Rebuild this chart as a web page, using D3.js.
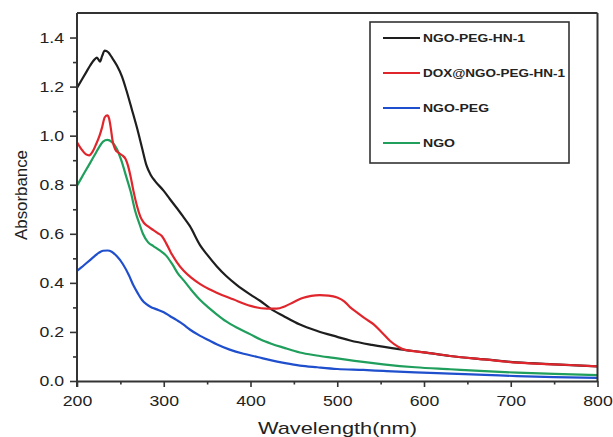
<!DOCTYPE html>
<html><head><meta charset="utf-8">
<script src="https://cdn.jsdelivr.net/npm/d3@7"></script>
<style>body{margin:0;background:#fff;} text{font-family:"Liberation Sans",Arial,sans-serif;fill:#222;}</style>
</head><body>
<svg id="c" width="613" height="437"></svg>
<script>
const seriesNames = ["NGO-PEG-HN-1","DOX@NGO-PEG-HN-1","NGO-PEG","NGO"];
const seriesColors = ["#1e1e1e","#e0262c","#1f4fcc","#1f9e5c"];

const wlBlack = [200,205,210,215,220,223,226.5,229,232,236,240,246,252,257,263,269,275,280,285,290,300,307,315,322,330,342,350,361,372,384,400,411,423,438,457,477,500,515,540,573,600,630,670,707,750,800];
const absBlack = [1.195,1.225,1.255,1.285,1.31,1.318,1.302,1.325,1.347,1.34,1.32,1.286,1.24,1.184,1.11,1.034,0.95,0.88,0.84,0.815,0.775,0.742,0.705,0.672,0.632,0.553,0.515,0.468,0.428,0.392,0.352,0.327,0.295,0.265,0.23,0.204,0.18,0.165,0.147,0.129,0.117,0.102,0.088,0.076,0.068,0.060];

const wlRed = [200,205,210,214,218,222,226,229,232,235,237,239,241,244,248,252,256,259,262,265,269,273,277,282,288,293,298,303,308,315,323,332,342,352,361,380,400,419,430,440,450,460,470,480,490,500,508,515,523,532,542,552,561,570,577,600,630,670,707,750,800];
const absRed = [0.973,0.945,0.925,0.92,0.935,0.965,1.0,1.035,1.075,1.083,1.07,1.03,0.98,0.945,0.93,0.92,0.905,0.875,0.83,0.776,0.715,0.67,0.645,0.63,0.615,0.603,0.59,0.56,0.525,0.485,0.449,0.42,0.395,0.375,0.36,0.333,0.306,0.295,0.295,0.305,0.322,0.338,0.347,0.35,0.348,0.34,0.325,0.30,0.279,0.255,0.231,0.196,0.163,0.14,0.128,0.117,0.102,0.088,0.075,0.068,0.060];

const wlBlue = [200,205,210,215,220,225,230,235,240,246,253,260,265,270,275,280,286,292,300,307,315,322,330,342,352,361,376,392,408,423,440,457,477,500,530,553,590,630,670,707,750,800];
const absBlue = [0.449,0.463,0.478,0.493,0.508,0.522,0.531,0.532,0.527,0.508,0.476,0.43,0.39,0.358,0.33,0.313,0.3,0.292,0.28,0.265,0.248,0.232,0.21,0.184,0.166,0.15,0.128,0.111,0.098,0.085,0.073,0.063,0.056,0.049,0.045,0.041,0.035,0.03,0.025,0.02,0.016,0.013];

const wlGreen = [200,205,210,215,220,225,230,235,240,246,251,257,262,267,272,276,282,288,295,303,310,316,323,332,342,352,361,372,384,400,411,424,438,457,476,496,520,553,590,630,670,707,750,800];
const absGreen = [0.796,0.827,0.858,0.888,0.919,0.95,0.976,0.983,0.975,0.946,0.9,0.83,0.77,0.694,0.64,0.6,0.565,0.55,0.533,0.51,0.475,0.44,0.41,0.37,0.33,0.298,0.272,0.243,0.218,0.19,0.17,0.152,0.136,0.116,0.104,0.094,0.082,0.068,0.056,0.048,0.04,0.034,0.029,0.024];

const xTicks = [200,300,400,500,600,700,800];
const xMinor = [250,350,450,550,650,750];
const yTicks = [0,0.2,0.4,0.6,0.8,1.0,1.2,1.4];
const yMinor = [0.1,0.3,0.5,0.7,0.9,1.1,1.3];

const svg = d3.select("#c");
const x = d3.scaleLinear().domain([200,800]).range([77,597.5]);
const y = d3.scaleLinear().domain([0,1.5]).range([381,13]);
const axisColor = "#333";

function stretch(sel, f){ sel.each(function(){ const w=this.getComputedTextLength(); this.setAttribute("textLength", w*f); this.setAttribute("lengthAdjust","spacingAndGlyphs"); }); }

const series = [[wlBlack,absBlack],[wlRed,absRed],[wlBlue,absBlue],[wlGreen,absGreen]];
const line = d3.line().x(d=>x(d[0])).y(d=>y(d[1])).curve(d3.curveMonotoneX);
[3,2,0,1].forEach(i=>{
  const pts = series[i][0].map((w,k)=>[w,series[i][1][k]]);
  svg.append("path").attr("d",line(pts)).attr("fill","none").attr("stroke",seriesColors[i]).attr("stroke-width",2.2).attr("stroke-linejoin","round");
});

svg.append("line").attr("x1",77).attr("x2",597.5).attr("y1",13).attr("y2",13).attr("stroke",axisColor).attr("stroke-width",2);
svg.append("line").attr("x1",597.5).attr("x2",597.5).attr("y1",13).attr("y2",381).attr("stroke",axisColor).attr("stroke-width",2);

const gx = svg.append("g").attr("transform","translate(0,381)")
  .call(d3.axisBottom(x).tickValues(xTicks).tickFormat(d3.format("d")).tickSizeInner(6).tickSizeOuter(0).tickPadding(8));
const gxm = svg.append("g").attr("transform","translate(0,381)")
  .call(d3.axisBottom(x).tickValues(xMinor).tickFormat("").tickSizeInner(3.5).tickSizeOuter(0));
const gy = svg.append("g").attr("transform","translate(77,0)")
  .call(d3.axisLeft(y).tickValues(yTicks).tickFormat(d3.format(".1f")).tickSizeInner(7).tickSizeOuter(0).tickPadding(6));
const gym = svg.append("g").attr("transform","translate(77,0)")
  .call(d3.axisLeft(y).tickValues(yMinor).tickFormat("").tickSizeInner(4).tickSizeOuter(0));
[gx,gxm,gy,gym].forEach(g=>{
  g.select(".domain").attr("stroke",axisColor).attr("stroke-width",2);
  g.selectAll(".tick line").attr("stroke",axisColor).attr("stroke-width",1.6);
  g.selectAll(".tick text").attr("font-size",15).attr("font-family","Liberation Sans, Arial, sans-serif").attr("fill","#222");
});
gxm.select(".domain").remove(); gym.select(".domain").remove();
gy.select(".domain").attr("d","M0,13V387");
stretch(gx.selectAll(".tick text"),1.18);
stretch(gy.selectAll(".tick text"),1.18);

const xt = svg.append("text").attr("x",337.5).attr("y",434).attr("text-anchor","middle").attr("font-size",17).text("Wavelength(nm)");
xt.attr("textLength",159).attr("lengthAdjust","spacingAndGlyphs");
const yt = svg.append("text").attr("transform","translate(27,195) rotate(-90)").attr("text-anchor","middle").attr("font-size",17).text("Absorbance");
yt.attr("textLength",90).attr("lengthAdjust","spacingAndGlyphs");

svg.append("rect").attr("x",370).attr("y",22).attr("width",199).attr("height",141).attr("fill","#fff").attr("stroke",axisColor).attr("stroke-width",1.6);
const legendY = [38,73,108,143];
const legendW = [102,142,66,32];
seriesNames.forEach((n,i)=>{
  svg.append("line").attr("x1",383).attr("x2",420).attr("y1",legendY[i]).attr("y2",legendY[i]).attr("stroke",seriesColors[i]).attr("stroke-width",2.2);
  svg.append("text").attr("x",423).attr("y",legendY[i]+4.2).attr("font-size",11.5).attr("font-weight","bold").attr("fill","#111")
    .attr("textLength",legendW[i]).attr("lengthAdjust","spacingAndGlyphs").text(n);
});
</script>
</body></html>
